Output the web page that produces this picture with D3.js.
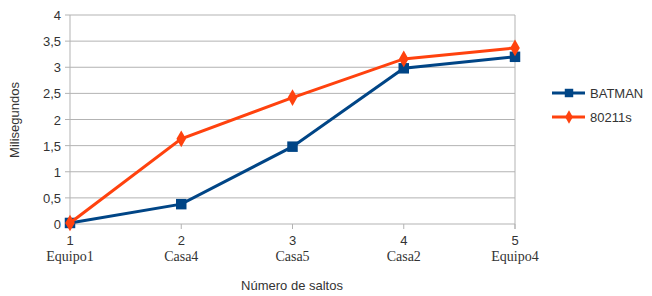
<!DOCTYPE html>
<html>
<head>
<meta charset="utf-8">
<script src="https://cdn.jsdelivr.net/npm/d3@7"></script>
<style>
  body { margin: 0; background: #fff; }
  text { font-family: "Liberation Sans", Arial, sans-serif; fill: #333; }
</style>
</head>
<body>
<script>
const hops = [1, 2, 3, 4, 5];
const nodeNames = ["Equipo1", "Casa4", "Casa5", "Casa2", "Equipo4"];
const batman = [0.02, 0.38, 1.48, 2.98, 3.2];
const s80211 = [0.02, 1.63, 2.42, 3.16, 3.37];
const yTicks = [0, 0.5, 1, 1.5, 2, 2.5, 3, 3.5, 4];

const width = 652, height = 296;
const plotLeft = 70, plotRight = 515, plotTop = 15, plotBottom = 224;

const svg = d3.select("body").append("svg")
  .attr("width", width)
  .attr("height", height);

const x = d3.scaleLinear().domain([1, 5]).range([plotLeft, plotRight]);
const y = d3.scaleLinear().domain([0, 4]).range([plotBottom, plotTop]);
const fmt = d => String(d).replace(".", ",");

// grid
svg.selectAll(".grid")
  .data(yTicks)
  .enter()
  .append("line")
  .attr("x1", plotLeft - 5).attr("x2", plotRight)
  .attr("y1", d => y(d)).attr("y2", d => y(d))
  .attr("stroke", "#b3b3b3").attr("stroke-width", 1);

// left / right borders
svg.append("line").attr("x1", plotLeft).attr("x2", plotLeft).attr("y1", plotTop).attr("y2", plotBottom)
  .attr("stroke", "#b3b3b3");
svg.append("line").attr("x1", plotRight).attr("x2", plotRight).attr("y1", plotTop).attr("y2", plotBottom + 5)
  .attr("stroke", "#b3b3b3");

// x ticks
svg.selectAll(".xt")
  .data(hops)
  .enter()
  .append("line")
  .attr("x1", d => x(d)).attr("x2", d => x(d))
  .attr("y1", plotBottom).attr("y2", plotBottom + 5)
  .attr("stroke", "#b3b3b3");

// y labels
svg.selectAll(".yl")
  .data(yTicks)
  .enter()
  .append("text")
  .attr("x", plotLeft - 9)
  .attr("y", d => y(d) + 5)
  .attr("text-anchor", "end")
  .attr("font-size", 13)
  .text(fmt);

// x labels
svg.selectAll(".xl")
  .data(hops)
  .enter()
  .append("text")
  .attr("x", d => x(d))
  .attr("y", plotBottom + 21)
  .attr("text-anchor", "middle")
  .attr("font-size", 13)
  .text(d => d);

svg.selectAll(".xn")
  .data(nodeNames)
  .enter()
  .append("text")
  .attr("x", (d, i) => x(hops[i]))
  .attr("y", plotBottom + 37)
  .attr("text-anchor", "middle")
  .attr("font-size", 14)
  .style("font-family", "'Liberation Serif', serif")
  .text(d => d);

// axis titles
svg.append("text")
  .attr("x", 292).attr("y", 290)
  .attr("text-anchor", "middle")
  .attr("font-size", 13)
  .text("Número de saltos");

svg.append("text")
  .attr("transform", "translate(19,120) rotate(-90)")
  .attr("text-anchor", "middle")
  .attr("font-size", 13)
  .text("Milisegundos");

const series = [
  { name: "BATMAN", values: batman, color: "#004586", shape: d3.symbolSquare, size: 110 },
  { name: "80211s", values: s80211, color: "#ff420e", shape: d3.symbolDiamond, size: 80 }
];

const line = d3.line()
  .x((d, i) => x(hops[i]))
  .y(d => y(d));

series.forEach(s => {
  svg.append("path")
    .datum(s.values)
    .attr("d", line)
    .attr("fill", "none")
    .attr("stroke", s.color)
    .attr("stroke-width", 3);

  svg.selectAll(null)
    .data(s.values)
    .enter()
    .append("path")
    .attr("d", d3.symbol().type(s.shape).size(s.size))
    .attr("transform", (d, i) => `translate(${x(hops[i])},${y(d)})`)
    .attr("fill", s.color);
});

// legend
const legend = svg.selectAll(".legend")
  .data(series)
  .enter()
  .append("g")
  .attr("transform", (d, i) => `translate(552,${93 + i * 24})`);

legend.append("line")
  .attr("x1", 0).attr("x2", 33)
  .attr("stroke", d => d.color)
  .attr("stroke-width", 3);

legend.append("path")
  .attr("d", d => d3.symbol().type(d.shape).size(d.size * 0.65)())
  .attr("transform", "translate(17,0)")
  .attr("fill", d => d.color);

legend.append("text")
  .attr("x", 38).attr("y", 5)
  .attr("font-size", 13)
  .text(d => d.name);
</script>
</body>
</html>
